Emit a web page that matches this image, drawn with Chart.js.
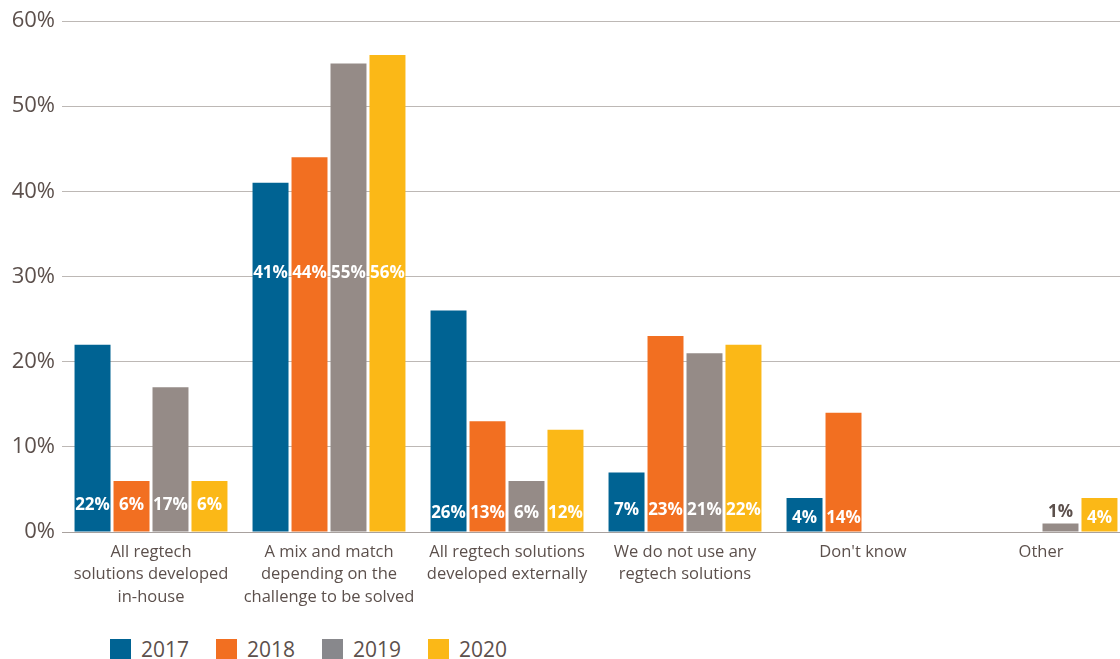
<!DOCTYPE html>
<html>
<head>
<meta charset="utf-8">
<script src="https://cdn.jsdelivr.net/npm/chart.js@4.4.1/dist/chart.umd.min.js"></script>
<style>
  body { margin: 0; overflow: hidden; background: #fff; font-family: "Open Sans", sans-serif; }
  #wrap { position: relative; width: 1130px; height: 659px; }
  #legend { position: absolute; left: 110px; top: 637px; display: flex; }
  .item { display: flex; align-items: center; margin-right: 27px; color: #5c504c; font-size: 21px; line-height: 24px; }
  .box { width: 21px; height: 21px; margin-right: 10px; }
</style>
</head>
<body>
<div id="wrap">
  <canvas id="chart" width="1130" height="620"></canvas>
  <div id="legend"></div>
</div>
<script>
/*
  Regtech solutions chart
*/

const categories = [
  ["All regtech", "solutions developed", "in-house"],
  ["A mix and match", "depending on the", "challenge to be solved"],
  ["All regtech solutions", "developed externally"],
  ["We do not use any", "regtech solutions"],
  "Don't know",
  "Other"
];

const years = ["2017", "2018", "2019", "2020"];

const values2017 = [22, 41, 26, 7, 4, 0];
const values2018 = [6, 44, 13, 23, 14, 0];
const values2019 = [17, 55, 6, 21, 0, 1];
const values2020 = [6, 56, 12, 22, 0, 4];

const yTicks = [0, 10, 20, 30, 40, 50, 60];

const colors = ["#006393", "#f26f21", "#958b87", "#fbb817"];
const legendColors = ["#006393", "#f26f21", "#88888c", "#fbb817"];

const textColor = "#5c504c";

// where the in-bar labels sit (value units), one per category
const labelAnchor = [3.2, 30.4, 2.2, 2.6, 1.6, 1.6];

const barLabels = {
  id: "barLabels",
  afterDatasetsDraw(chart) {
    const ctx = chart.ctx;
    const y = chart.scales.y;
    ctx.save();
    ctx.font = "bold 17px 'Open Sans', sans-serif";
    ctx.textAlign = "center";
    ctx.textBaseline = "middle";
    chart.data.datasets.forEach((ds, i) => {
      const meta = chart.getDatasetMeta(i);
      meta.data.forEach((bar, j) => {
        const v = ds.data[j];
        if (!v) return;
        const text = v + "%";
        if (v < 1.5) {
          ctx.fillStyle = textColor;
          ctx.fillText(text, bar.x, bar.y - 11);
        } else {
          ctx.fillStyle = "#ffffff";
          ctx.fillText(text, bar.x, y.getPixelForValue(labelAnchor[j]));
        }
      });
    });
    ctx.restore();
  }
};

const seriesValues = [values2017, values2018, values2019, values2020];

const chart = new Chart(document.getElementById("chart"), {
  type: "bar",
  data: {
    labels: categories,
    datasets: years.map((yr, i) => ({
      label: yr,
      data: seriesValues[i],
      backgroundColor: colors[i],
      borderWidth: 0,
      categoryPercentage: 0.876,
      barPercentage: 0.923
    }))
  },
  options: {
    responsive: false,
    animation: false,
    layout: {
      padding: { top: 21, right: 0, bottom: 0, left: 0 }
    },
    plugins: {
      legend: { display: false },
      tooltip: { enabled: false }
    },
    scales: {
      x: {
        grid: { display: false },
        border: { display: false },
        ticks: {
          color: textColor,
          font: { family: "'Open Sans', sans-serif", size: 16.5, lineHeight: 1.36 },
          padding: 1,
          maxRotation: 0,
          autoSkip: false
        },
        afterFit(scale) { scale.height = 88; }
      },
      y: {
        min: 0,
        max: 60,
        afterBuildTicks(scale) {
          scale.ticks = yTicks.map(v => ({ value: v }));
        },
        grid: {
          color: c => c.tick && c.tick.value === 0 ? "#a8a19e" : "#bdb8b5",
          lineWidth: 1,
          drawTicks: false
        },
        border: { display: false },
        ticks: {
          color: textColor,
          font: { family: "'Open Sans', sans-serif", size: 22 },
          padding: 7,
          callback: v => v + "%"
        },
        afterFit(scale) { scale.width = 62; }
      }
    }
  },
  plugins: [barLabels]
});

// legend
const legend = document.getElementById("legend");
years.forEach((yr, i) => {
  const item = document.createElement("div");
  item.className = "item";
  const box = document.createElement("span");
  box.className = "box";
  box.style.background = legendColors[i];
  const label = document.createElement("span");
  label.textContent = yr;
  item.appendChild(box);
  item.appendChild(label);
  legend.appendChild(item);
});
</script>
</body>
</html>
